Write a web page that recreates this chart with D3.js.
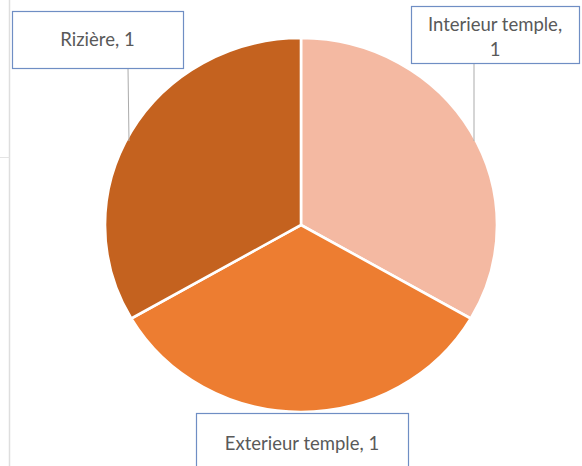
<!DOCTYPE html>
<html>
<head>
<meta charset="utf-8">
<script src="https://cdn.jsdelivr.net/npm/d3@7"></script>
<style>
  body { margin: 0; background: #fff; }
  svg { display: block; }
</style>
</head>
<body>
<script>
'use strict';

// chart data
const categories = ["Interieur temple", "Exterieur temple", "Rizière"];
const values = [1, 1, 1];
const sliceColors = ["#F4B9A2", "#ED7D31", "#C4621F"];

// label boxes (x, y, w, h) and leader line x for each category
const labelBoxes = [
  { x: 411, y: 6, w: 168, h: 57, lines: ["Interieur temple,", "1"], lineX: 474 },
  { x: 196, y: 413, w: 212, h: 60, lines: ["Exterieur temple, 1"], lineX: 302 },
  { x: 12, y: 11, w: 171, h: 57, lines: ["Rizière, 1"], lineX: 128 }
];

(function() {
  const width = 582, height = 466;
  const cx = 301, cy = 225;
  const rx = 196, ry = 187;

  const svg = d3.select('body')
    .append('svg')
    .attr('width', width)
    .attr('height', height);

  // faint sheet gridlines at the left
  svg.append('line')
    .attr('x1', 9.5).attr('x2', 9.5)
    .attr('y1', 0).attr('y2', height)
    .attr('stroke', '#DEDEDE').attr('stroke-width', 1.5);
  svg.append('line')
    .attr('x1', 0).attr('x2', 9.5)
    .attr('y1', 157.5).attr('y2', 157.5)
    .attr('stroke', '#E4E4E4').attr('stroke-width', 1);

  const data = categories.map((c, i) => ({ name: c, value: values[i], color: sliceColors[i] }));

  const pie = d3.pie()
    .sort(null)
    .value((d) => d.value);

  // pie is drawn on a circle then stretched to the ellipse in the picture
  const arc = d3.arc()
    .innerRadius(0)
    .outerRadius(ry);

  const g = svg.append('g')
    .attr('transform', 'translate(' + cx + ',' + cy + ') scale(' + (rx / ry) + ',1)');

  g.selectAll('path')
    .data(pie(data))
    .enter()
    .append('path')
      .attr('d', arc)
      .attr('fill', (d) => d.data.color)
      .attr('stroke', '#fff')
      .attr('stroke-width', 2.6)
      .attr('vector-effect', 'non-scaling-stroke');

  // leader lines and label boxes
  labelBoxes.forEach((b, i) => {
    let dx = (b.lineX - cx) / rx;
    let edgeY;
    if (b.y < cy) {
      edgeY = cy - ry * Math.sqrt(Math.max(0, 1 - dx * dx));
      svg.append('line')
        .attr('x1', b.lineX).attr('x2', b.lineX + (i == 2 ? 1 : 0))
        .attr('y1', b.y + b.h).attr('y2', edgeY + 4)
        .attr('stroke', '#ABABAB').attr('stroke-width', 1);
    }

    svg.append('rect')
      .attr('x', b.x + 0.5)
      .attr('y', b.y + 0.5)
      .attr('width', b.w)
      .attr('height', b.h)
      .attr('fill', '#fff')
      .attr('stroke', '#6F8EC4')
      .attr('stroke-width', 1.2);

    let lineH = 25;
    let firstY = b.y + b.h / 2 - (b.lines.length - 1) * lineH / 2 + 6;
    if (b.lines.length > 1) firstY += 3;
    if (b.y > cy) firstY = 450;
    b.lines.forEach((t, j) => {
      svg.append('text')
        .attr('x', b.x + b.w / 2)
        .attr('y', firstY + j * lineH)
        .attr('text-anchor', 'middle')
        .style('font-family', 'Lato, "Open Sans", sans-serif')
        .style('font-size', '18.5px')
        .style('fill', '#595959')
        .text(t);
    });
  });
})();
</script>
</body>
</html>
